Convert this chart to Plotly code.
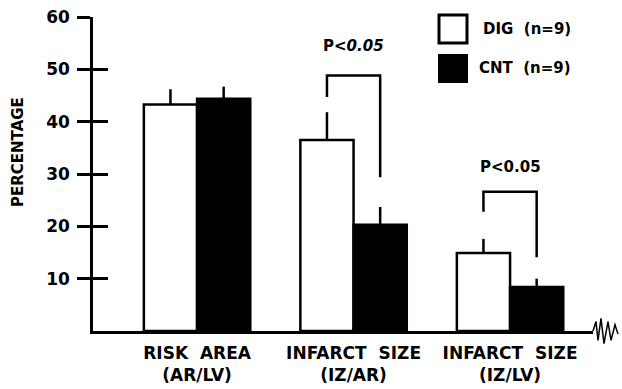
import plotly.graph_objects as go

categories = ["RISK  AREA<br>(AR/LV)", "INFARCT  SIZE<br>(IZ/AR)", "INFARCT  SIZE<br>(IZ/LV)"]
dig_values = [43.3, 36.5, 14.9]
dig_err = [2.9, 5.3, 2.7]
cnt_values = [44.4, 20.3, 8.4]
cnt_err = [2.3, 3.4, 1.6]
y_ticks = [10, 20, 30, 40, 50, 60]
series_names = ["DIG  (n=9)", "CNT  (n=9)"]
y_title = "PERCENTAGE"

FONT = "DejaVu Sans"
x_idx = [0, 1, 2]

fig = go.Figure()
fig.add_trace(go.Bar(
    x=x_idx, y=dig_values, name=series_names[0],
    marker=dict(color="white", line=dict(color="black", width=2.5)),
    error_y=dict(type="data", symmetric=False, array=dig_err, arrayminus=[0, 0, 0],
                 width=0, thickness=2.5, color="black"),
))
fig.add_trace(go.Bar(
    x=x_idx, y=cnt_values, name=series_names[1],
    marker=dict(color="black", line=dict(color="black", width=2.5)),
    error_y=dict(type="data", symmetric=False, array=cnt_err, arrayminus=[0, 0, 0],
                 width=0, thickness=2.5, color="black"),
))

# invisible trace on overlay axis for inner ticks
fig.add_trace(go.Scatter(x=[0], y=[0], yaxis="y2", mode="markers",
                         marker=dict(opacity=0), showlegend=False, hoverinfo="skip"))

fig.update_layout(
    width=622, height=389,
    margin=dict(l=93, r=29, t=17, b=58, autoexpand=False),
    paper_bgcolor="white", plot_bgcolor="white",
    showlegend=False,
    barmode="group", bargap=0.32, bargroupgap=0,
    font=dict(family=FONT, color="black", size=16, weight="bold"),
    xaxis=dict(range=[-0.665, 2.53], tickvals=x_idx, ticktext=categories,
               showgrid=False, zeroline=False, showline=True, linecolor="black",
               linewidth=2.5, ticks="", ticklabelstandoff=5, automargin=False,
               tickfont=dict(size=17, weight="bold")),
    yaxis=dict(range=[0, 60], tickvals=y_ticks, showgrid=False, zeroline=False,
               showline=True, linecolor="black", linewidth=2.5,
               ticks="outside", ticklen=13, tickwidth=3, tickcolor="black",
               ticklabelstandoff=4, automargin=False,
               tickfont=dict(size=17, weight="bold")),
    yaxis2=dict(range=[0, 60], tickvals=y_ticks, overlaying="y", side="left",
                showgrid=False, zeroline=False, showline=False, showticklabels=False,
                ticks="inside", ticklen=15, tickwidth=3, tickcolor="black",
                automargin=False),
)

# y-axis title placed as rotated annotation
fig.add_annotation(xref="paper", yref="paper", x=(18 - 93) / 500, y=(331 - 152) / 314,
                   text=y_title, textangle=-90, showarrow=False,
                   xanchor="center", yanchor="middle",
                   font=dict(size=15, weight="bold"))

line = dict(color="black", width=2.5)
# bracket 1 (IZ/AR)
fig.add_shape(type="path", path="M 0.83,44.7 L 0.83,48.8 L 1.17,48.8 L 1.17,29.4",
              xref="x", yref="y", line=line)
# bracket 2 (IZ/LV)
fig.add_shape(type="path", path="M 1.83,22.8 L 1.83,26.6 L 2.17,26.6 L 2.17,14.1",
              xref="x", yref="y", line=line)
fig.add_annotation(x=1, y=54.4, xref="x", yref="y", text="P<i>&lt;0.05</i>",
                   showarrow=False, font=dict(size=15, weight="bold"))
fig.add_annotation(x=2, y=31.3, xref="x", yref="y", text="P&lt;0.05",
                   showarrow=False, font=dict(size=15, weight="bold"))

# legend boxes
fig.add_shape(type="rect", xref="paper", yref="paper",
              x0=(439 - 93) / 500, x1=(467 - 93) / 500,
              y0=(331 - 43) / 314, y1=(331 - 15) / 314,
              line=dict(color="black", width=3), fillcolor="white")
fig.add_shape(type="rect", xref="paper", yref="paper",
              x0=(439 - 93) / 500, x1=(467 - 93) / 500,
              y0=(331 - 82) / 314, y1=(331 - 55) / 314,
              line=dict(color="black", width=2), fillcolor="black")
fig.add_annotation(xref="paper", yref="paper", x=(481 - 93) / 500, y=(331 - 29) / 314,
                   xanchor="left", yanchor="middle", text=series_names[0], showarrow=False,
                   font=dict(size=15, weight="bold"))
fig.add_annotation(xref="paper", yref="paper", x=(477 - 93) / 500, y=(331 - 68) / 314,
                   xanchor="left", yanchor="middle", text=series_names[1], showarrow=False,
                   font=dict(size=15, weight="bold"))

# axis break squiggle at the end of the baseline
fig.add_shape(type="path", xref="paper", yref="paper",
              path="M 1.0,0 L 1.006,0.03 L 1.01,-0.03 L 1.016,0.04 L 1.022,-0.04 L 1.03,0.03 L 1.036,-0.03 L 1.044,0.02 L 1.05,-0.01",
              line=dict(color="black", width=1.5))

fig.write_html("out.html")
